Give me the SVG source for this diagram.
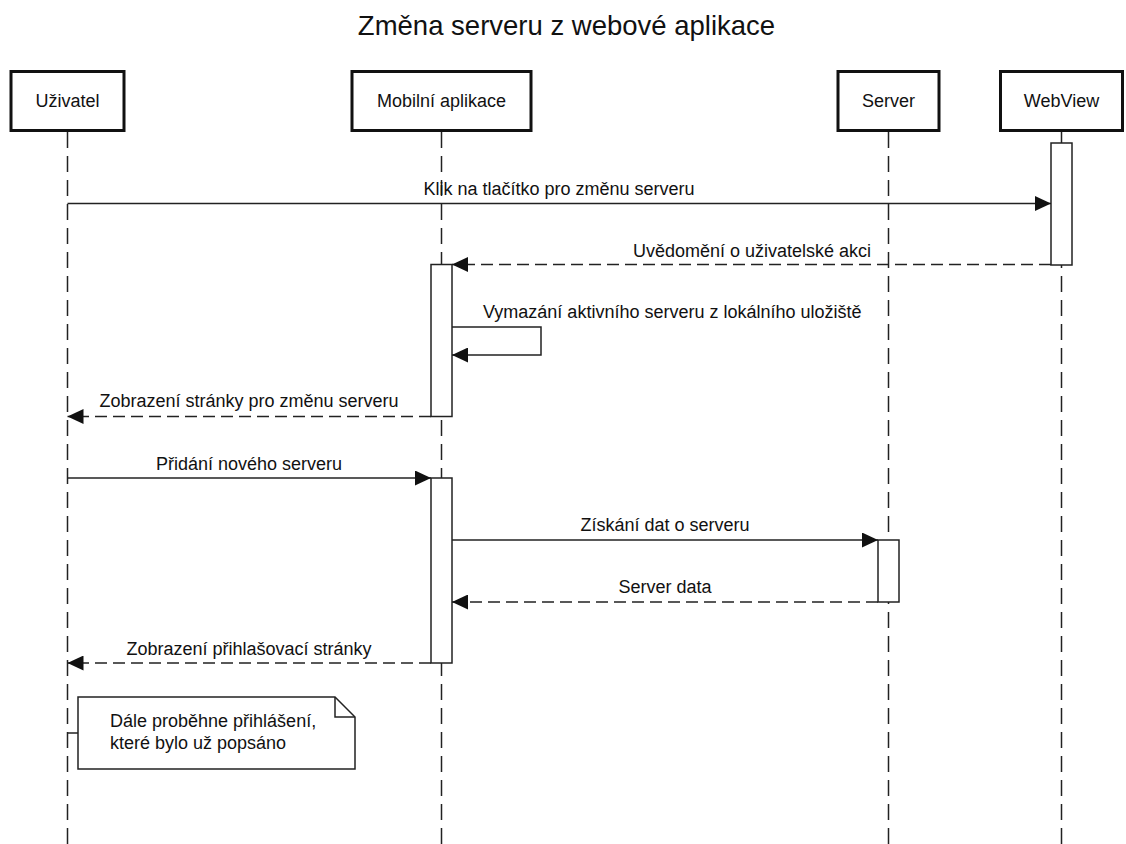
<svg xmlns="http://www.w3.org/2000/svg" width="1126" height="844" viewBox="0 0 1126 844">
<style>
text{font-family:"Liberation Sans",Arial,Helvetica,sans-serif;fill:#111;}
.title{font-size:27.5px;text-anchor:middle;}
.lbl{font-size:18px;text-anchor:middle;}
.actor{fill:#fff;stroke:#111;stroke-width:3;}
.life{stroke:#222;stroke-width:1.5;stroke-dasharray:16 8;fill:none;}
.act{fill:#fff;stroke:#222;stroke-width:1.5;}
.msg{stroke:#222;stroke-width:1.5;fill:none;marker-end:url(#arrow);}
.ret{stroke-dasharray:12 6;}
.note{fill:#fff;stroke:#222;stroke-width:1.5;}
</style>
<defs>
<marker id="arrow" markerUnits="userSpaceOnUse" markerWidth="16" markerHeight="15" refX="16" refY="7.5" orient="auto">
<path d="M0,0 L16,7.5 L0,15 Z" fill="#111"/>
</marker>
</defs>
<rect width="1126" height="844" fill="#fff"/>
<text class="title" x="566.5" y="35">Změna serveru z webové aplikace</text>

<g id="lifelines">
<line class="life" x1="67.5" y1="132" x2="67.5" y2="844"/>
<line class="life" x1="441.5" y1="132" x2="441.5" y2="844"/>
<line class="life" x1="888.5" y1="132" x2="888.5" y2="844"/>
<line class="life" x1="1061.5" y1="132" x2="1061.5" y2="844"/>
</g>

<g id="uzivatel">
<rect class="actor" x="11" y="71.5" width="113" height="59"/>
<text class="lbl" x="67.5" y="107">Uživatel</text>
</g>
<g id="mobilni">
<rect class="actor" x="352" y="71.5" width="179" height="59"/>
<text class="lbl" x="441.5" y="107">Mobilní aplikace</text>
</g>
<g id="server">
<rect class="actor" x="838" y="71.5" width="101" height="59"/>
<text class="lbl" x="888.5" y="107">Server</text>
</g>
<g id="webview">
<rect class="actor" x="1000.5" y="71.5" width="122" height="59"/>
<text class="lbl" x="1061.5" y="107">WebView</text>
</g>

<g id="activations">
<rect class="act" x="1051" y="143" width="21" height="122"/>
<rect class="act" x="431" y="264.5" width="21" height="152"/>
<rect class="act" x="431" y="478" width="21" height="185"/>
<rect class="act" x="878" y="540" width="21" height="62"/>
</g>

<g id="connectors">
<line class="msg" x1="67.5" y1="203.5" x2="1051" y2="203.5"/>
<line class="msg ret" x1="1051" y1="264.5" x2="452" y2="264.5"/>
<path class="msg" d="M452,327 H541 V355 H452"/>
<line class="msg ret" x1="431" y1="416.5" x2="67.5" y2="416.5"/>
<line class="msg" x1="67.5" y1="478" x2="431" y2="478"/>
<line class="msg" x1="452" y1="540" x2="878" y2="540"/>
<line class="msg ret" x1="878" y1="602" x2="452" y2="602"/>
<line class="msg ret" x1="431" y1="663" x2="67.5" y2="663"/>
<line x1="67.5" y1="733" x2="78" y2="733" stroke="#222" stroke-width="1.5"/>
</g>

<g id="labels">
<text class="lbl" x="559" y="195">Klik na tlačítko pro změnu serveru</text>
<text class="lbl" x="752" y="257">Uvědomění o uživatelské akci</text>
<text x="483" y="318" style="font-size:18px">Vymazání aktivního serveru z lokálního uložiště</text>
<text class="lbl" x="249" y="407">Zobrazení stránky pro změnu serveru</text>
<text class="lbl" x="249" y="470">Přidání nového serveru</text>
<text class="lbl" x="665" y="531">Získání dat o serveru</text>
<text class="lbl" x="665" y="593">Server data</text>
<text class="lbl" x="249" y="655">Zobrazení přihlašovací stránky</text>
</g>

<g id="note">
<path class="note" d="M78,697 H335 L355,717 V769 H78 Z"/>
<path d="M335,697 V717 H355" fill="none" stroke="#222" stroke-width="1.5"/>
<text x="110" y="727" style="font-size:18px">Dále proběhne přihlášení,</text>
<text x="110" y="748.5" style="font-size:18px">které bylo už popsáno</text>
</g>
</svg>
